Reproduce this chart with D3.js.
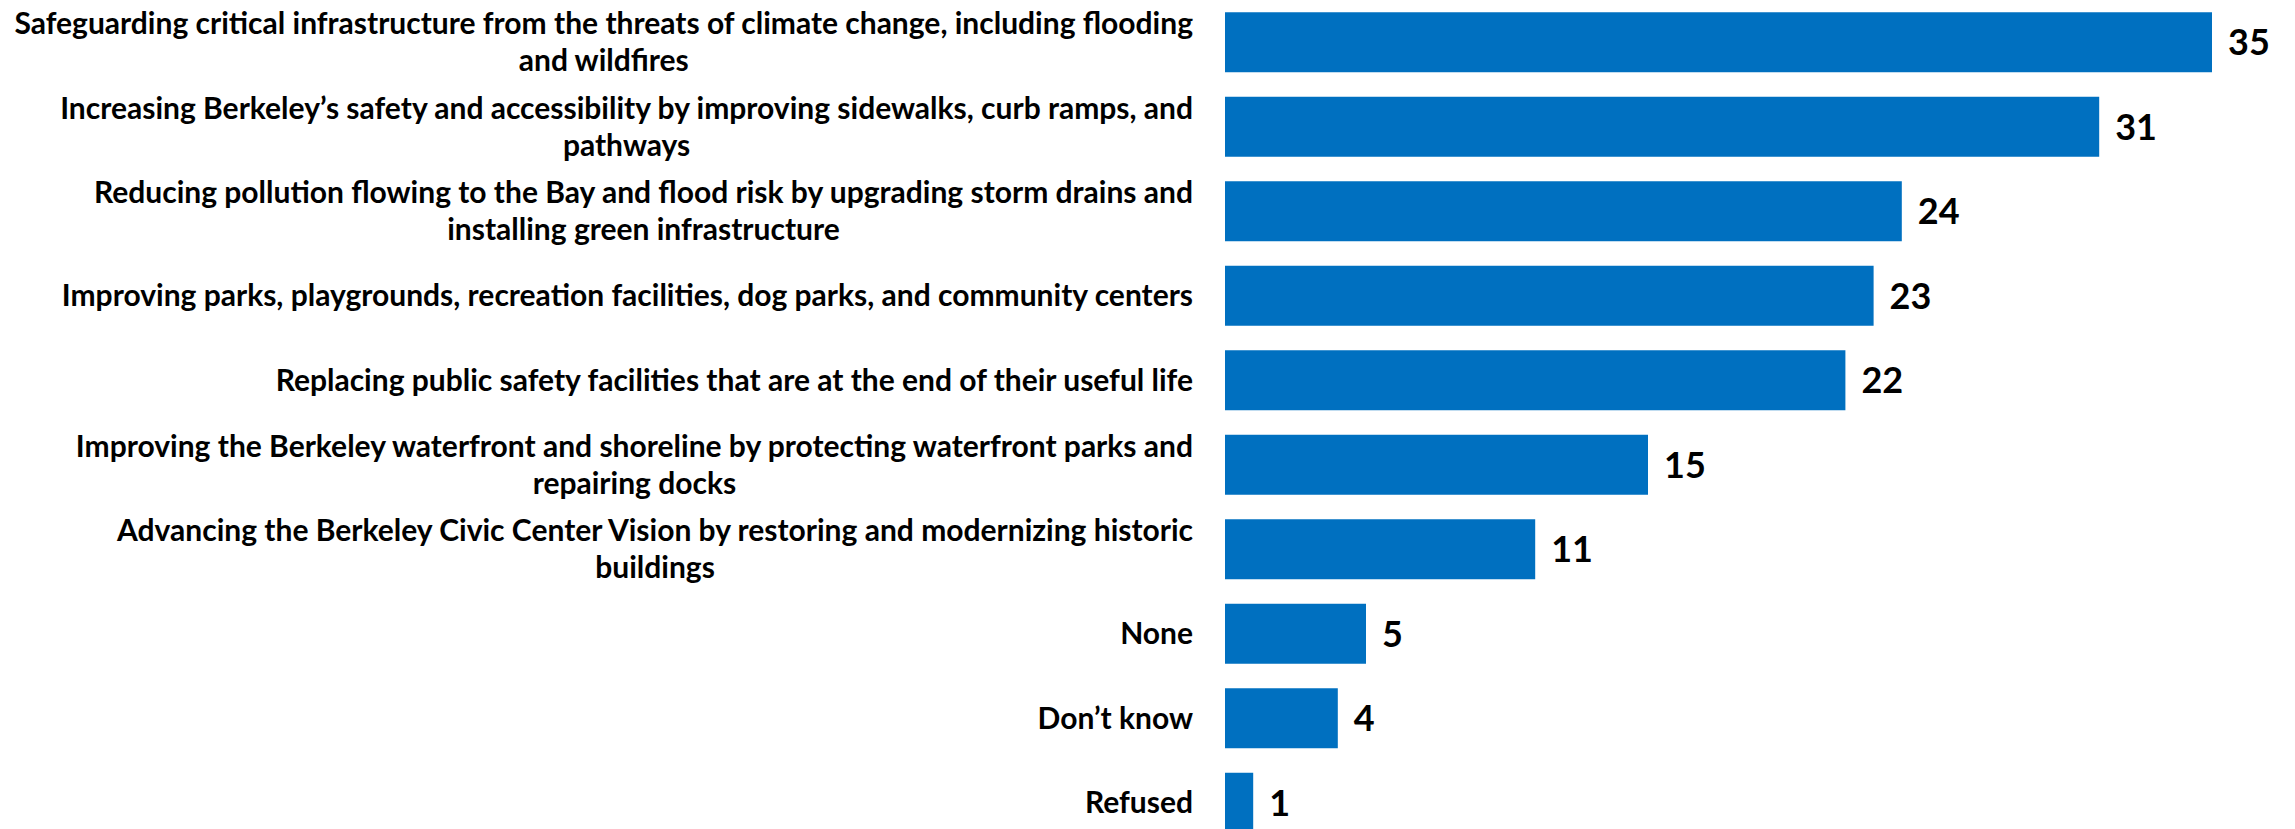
<!DOCTYPE html>
<html>
<head>
<meta charset="utf-8">
<script src="https://cdn.jsdelivr.net/npm/d3@7"></script>
<style>
  html, body { margin: 0; padding: 0; background: #ffffff; overflow: hidden; }
  svg { display: block; }
  text { font-family: Lato, "Liberation Sans", sans-serif; font-weight: bold; fill: #000; }
</style>
</head>
<body>
<svg id="chart" width="2295" height="829"></svg>
<script>
const categories = [
  "Safeguarding critical infrastructure from the threats of climate change, including flooding\nand wildfires",
  "Increasing Berkeley\u2019s safety and accessibility by improving sidewalks, curb ramps, and\npathways",
  "Reducing pollution flowing to the Bay and flood risk by upgrading storm drains and\ninstalling green infrastructure",
  "Improving parks, playgrounds, recreation facilities, dog parks, and community centers",
  "Replacing public safety facilities that are at the end of their useful life",
  "Improving the Berkeley waterfront and shoreline by protecting waterfront parks and\nrepairing docks",
  "Advancing the Berkeley Civic Center Vision by restoring and modernizing historic\nbuildings",
  "None",
  "Don\u2019t know",
  "Refused"
];
const values = [35, 31, 24, 23, 22, 15, 11, 5, 4, 1];

const svg = d3.select("#chart");
const barLeft = 1225, labelRight = 1193;

const x = d3.scaleLinear().domain([0, 35]).range([barLeft, 2212]);
const y = d3.scaleBand().domain(categories).range([0, 845])
  .paddingInner(0.29).paddingOuter(0.145);

const data = categories.map((c, i) => ({ c, v: values[i] }));

svg.append("g").selectAll("rect").data(data).join("rect")
  .attr("x", x(0))
  .attr("y", d => y(d.c))
  .attr("width", d => x(d.v) - x(0))
  .attr("height", y.bandwidth())
  .attr("fill", "#0070C0");

svg.append("g").selectAll("text").data(data).join("text")
  .attr("x", d => x(d.v) + 16)
  .attr("y", d => y(d.c) + y.bandwidth() / 2)
  .attr("dy", "0.36em")
  .style("font-size", "36px")
  .text(d => d.v);

const fs = 30, lh = 36.6;
const lab = svg.append("g").selectAll("text").data(data).join("text")
  .style("font-size", fs + "px")
  .attr("text-anchor", "middle");

lab.each(function(d) {
  const t = d3.select(this);
  const lines = d.c.split("\n");
  const cy = y(d.c) + y.bandwidth() / 2;
  const spans = lines.map((ln, k) => t.append("tspan")
    .attr("y", cy + (k - (lines.length - 1) / 2) * lh)
    .attr("dy", "0.35em")
    .text(ln));
  const w = d3.max(spans, s => s.node().getComputedTextLength());
  spans.forEach(s => s.attr("x", labelRight - w / 2));
});
</script>
</body>
</html>
